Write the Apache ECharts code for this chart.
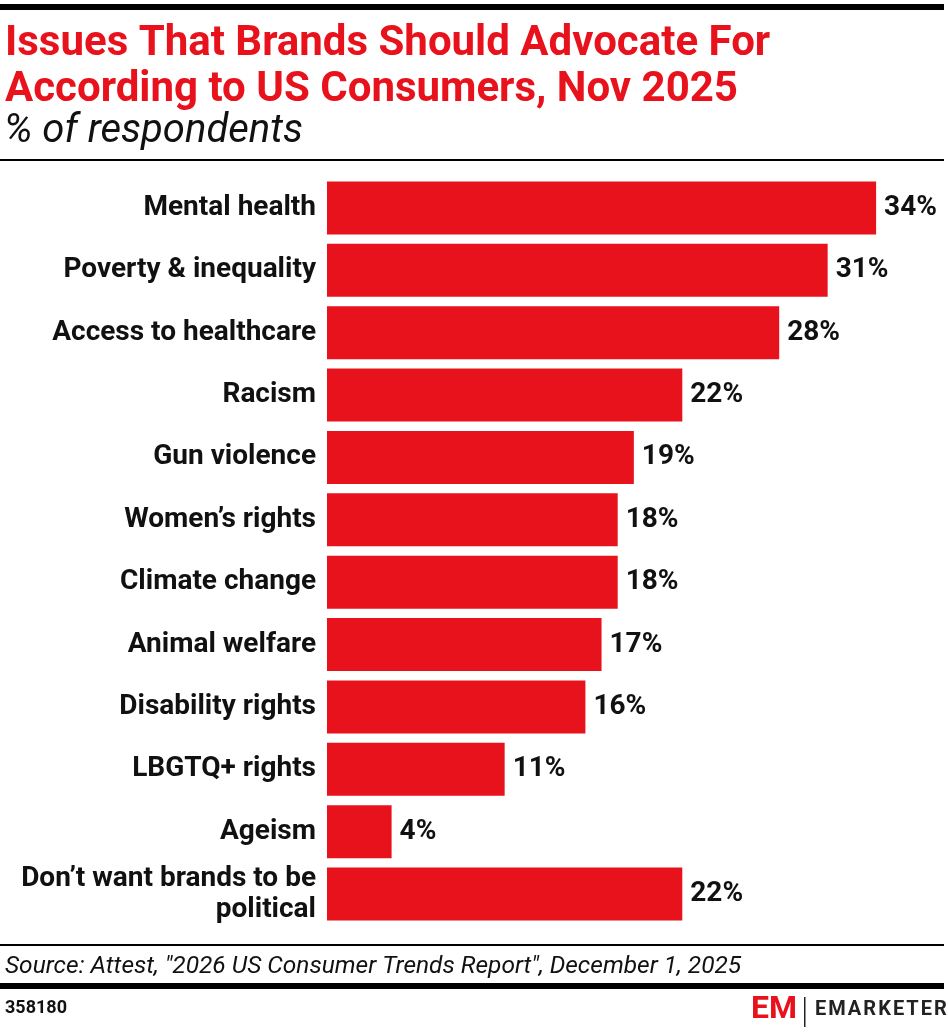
<!DOCTYPE html>
<html>
<head>
<meta charset="utf-8">
<script src="https://cdn.jsdelivr.net/npm/echarts@6/dist/echarts.min.js"></script>
<style>
  html, body { margin: 0; padding: 0; background: #fff; }
  #chart { width: 948px; height: 1032px; }
</style>
</head>
<body>
<div id="chart"></div>
<script>
// data
const categories = [
  'Mental health',
  'Poverty & inequality',
  'Access to healthcare',
  'Racism',
  'Gun violence',
  'Women\u2019s rights',
  'Climate change',
  'Animal welfare',
  'Disability rights',
  'LBGTQ+ rights',
  'Ageism',
  'Don\u2019t want brands to be\npolitical'
]
const values = [34, 31, 28, 22, 19, 18, 18, 17, 16, 11, 4, 22]

const RED = '#e8121c'
const FONT = 'Roboto, sans-serif'

const chart = echarts.init(document.getElementById('chart'))

chart.setOption({
  animation: false,
  grid: { left: 327, right: 39.6, top: 176.8, bottom: 106.8, containLabel: false },
  xAxis: {
    type: 'value',
    min: 0,
    max: 36,
    show: false
  },
  yAxis: {
    type: 'category',
    data: categories,
    inverse: true,
    axisLine: { show: false },
    axisTick: { show: false },
    axisLabel: {
      margin: 11,
      color: '#111',
      fontFamily: FONT,
      fontWeight: 'bold',
      fontSize: 28,
      lineHeight: 31,
      align: 'right'
    }
  },
  series: [{
    type: 'bar',
    data: values,
    barCategoryGap: '15%',
    itemStyle: { color: RED },
    label: {
      show: true,
      position: 'right',
      distance: 8,
      formatter: '{c}%',
      color: '#111',
      fontFamily: FONT,
      fontWeight: 'bold',
      fontSize: 28
    }
  }],
  graphic: [
    // top rule
    { type: 'rect', shape: { x: 0, y: 4, width: 944, height: 6 }, style: { fill: '#000' } },
    {
      type: 'text', left: 5, top: 21,
      style: {
        text: 'Issues That Brands Should Advocate For\nAccording to US Consumers, Nov 2025',
        fill: RED, font: 'bold 42px ' + FONT, lineHeight: 46
      }
    },
    {
      type: 'text', left: 4, top: 112,
      style: { text: '% of respondents', fill: '#111', font: 'italic 40px ' + FONT }
    },
    { type: 'rect', shape: { x: 0, y: 159, width: 944, height: 2 }, style: { fill: '#000' } },
    // footer
    { type: 'rect', shape: { x: 0, y: 944, width: 944, height: 2 }, style: { fill: '#000' } },
    {
      type: 'text', left: 5, top: 954,
      style: { text: 'Source: Attest, "2026 US Consumer Trends Report", December 1, 2025', fill: '#111', font: 'italic 24.5px ' + FONT }
    },
    { type: 'rect', shape: { x: 0, y: 983, width: 944, height: 6 }, style: { fill: '#000' } },
    {
      type: 'text', left: 5, top: 999,
      style: { text: '358180', fill: '#111', font: 'bold 18px ' + FONT }
    },
    // logo
    {
      type: 'text', left: 751, top: 994,
      style: { text: 'EM', fill: RED, font: 'bold 32px ' + FONT }
    },
    { type: 'rect', shape: { x: 804, y: 997, width: 1.5, height: 30 }, style: { fill: '#222' } },
    {
      type: 'text', left: 815, top: 1000,
      style: { text: 'EMARKETER'.split('').join('\u200A'), fill: '#222', font: 'bold 20px ' + FONT }
    }
  ]
})
</script>
</body>
</html>
